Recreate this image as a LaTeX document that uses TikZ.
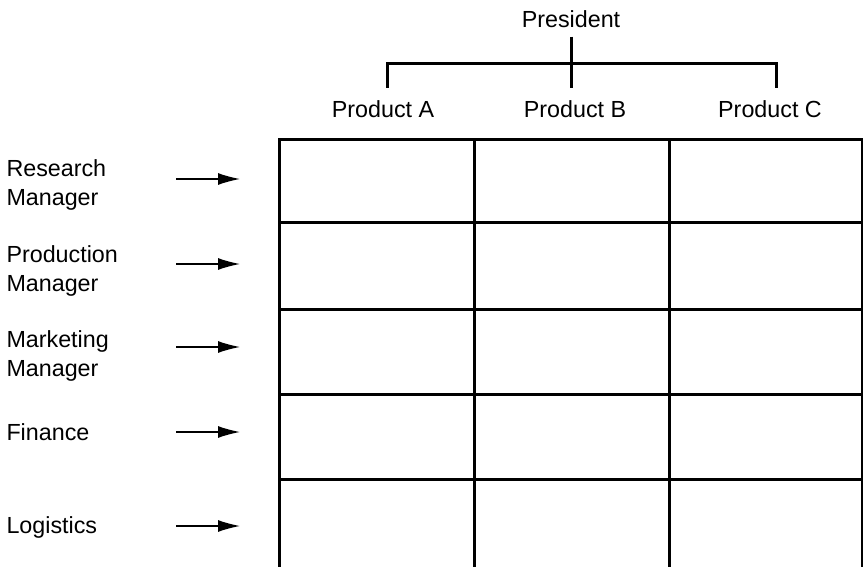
\documentclass[tikz,border=0pt]{standalone}
\usepackage{fontspec}
\setmainfont{Liberation Sans}
\usetikzlibrary{arrows.meta}
\tikzset{>={Latex[length=22pt, width=12pt]}}
\tikzset{
    lbl/.style={font=\fontsize{23.3}{29}\selectfont, inner sep=0pt},
    role/.style={lbl, anchor=west, align=left},
    feed/.style={->, line width=1.4pt},
}

\begin{document}
\begin{tikzpicture}[x=1pt, y=-1pt, line width=3pt]
    \useasboundingbox (0, 0) rectangle (863, 567);
    % president over the three products
    \node[lbl, inner sep=7pt] (pres) at (571, 19.5) {President};
    \node[lbl, inner sep=11pt] (prodA) at (383, 109) {Product A};
    \node[lbl, inner sep=11pt] (prodB) at (575, 109) {Product B};
    \node[lbl, inner sep=11pt] (prodC) at (770, 109) {Product C};
    \coordinate (jA) at (387, 64);
    \coordinate (jC) at (776, 64);
    \draw (pres.south) -- (pres.south |- prodB.north);
    \draw (jA |- prodA.north) -- (jA) -- (jC) -- (jC |- prodC.north);
    % the matrix, open at the bottom
    \draw (279, 140)--(862, 140);
    \draw (279, 223)--(862, 223);
    \draw (279, 309)--(862, 309);
    \draw (279, 394)--(862, 394);
    \draw (279, 479)--(862, 479);
    \draw (279, 138.5)--(279, 569);
    \draw (474, 138.5)--(474, 569);
    \draw (669, 138.5)--(669, 569);
    \draw (862, 138.5)--(862, 569);
    % functional managers
    \node[role] (res) at (5, 185) {Research\\Manager};
    \node[role] (pro) at (5, 271) {Production\\Manager};
    \node[role] (mkt) at (5, 356) {Marketing\\Manager};
    \node[role] (fin) at (5, 432) {Finance};
    \node[role] (log) at (5, 527) {Logistics};
    \coordinate (resA) at (176, 179);
    \coordinate (resB) at (240, 179);
    \coordinate (proA) at (176, 264);
    \coordinate (proB) at (240, 264);
    \coordinate (mktA) at (176, 347);
    \coordinate (mktB) at (240, 347);
    \coordinate (finA) at (176, 432);
    \coordinate (finB) at (240, 432);
    \coordinate (logA) at (176, 526);
    \coordinate (logB) at (240, 526);
    \draw[feed] (resA) -- (resB);
    \draw[feed] (proA) -- (proB);
    \draw[feed] (mktA) -- (mktB);
    \draw[feed] (finA) -- (finB);
    \draw[feed] (logA) -- (logB);
\end{tikzpicture}
\end{document}
